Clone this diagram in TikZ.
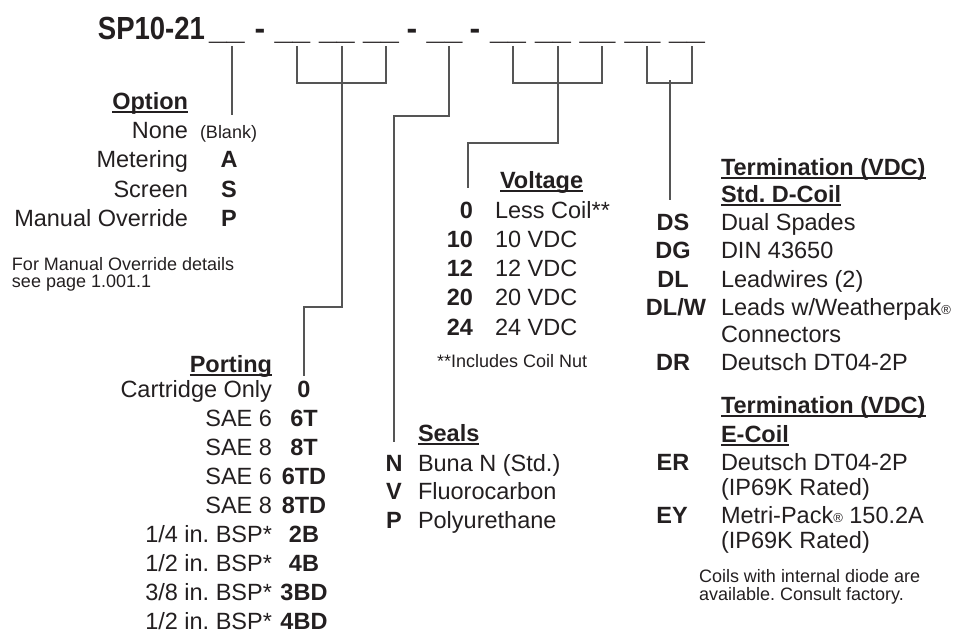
\documentclass[tikz,border=0pt]{standalone}
\usepackage{fontspec}
\setmainfont{Liberation Sans}
\usepackage{graphicx}
\definecolor{ink}{HTML}{231F20}
\definecolor{linec}{HTML}{555555}
\newcommand\myul[1]{\setbox0\hbox{#1}\rlap{\rule[-4pt]{\wd0}{1.8pt}}\box0}
\newcommand\regm{{\fontsize{13}{13}\selectfont\raisebox{1pt}{®}}}
\frenchspacing
\begin{document}
\begin{tikzpicture}[x=1pt,y=-1pt,
  lbl/.style={inner sep=0pt, outer sep=0pt, text=ink, font=\fontsize{23.5}{27}\selectfont},
  cd/.style={lbl, font=\fontsize{23.5}{27}\selectfont\bfseries},
  sm/.style={inner sep=0pt, outer sep=0pt, text=ink, font=\fontsize{18}{21}\selectfont},
  ttl/.style={inner sep=0pt, outer sep=0pt, text=ink, font=\fontsize{32}{36}\selectfont\bfseries},
  conn/.style={draw=linec, line width=2pt}]
\useasboundingbox (0,0) rectangle (974,633);
% ---- title and blanks
\node[ttl,anchor=base east] (title) at (205,39) {\scalebox{0.86}[1]{SP10-21}};
\node[ttl,anchor=base] (b1) at (227,39) {\_\_};
\node[ttl,anchor=base] (d1) at (260,39) {-};
\node[ttl,anchor=base] (b2) at (292.5,39) {\_\_};
\node[ttl,anchor=base] (b3) at (337,39) {\_\_};
\node[ttl,anchor=base] (b4) at (381,39) {\_\_};
\node[ttl,anchor=base] (d2) at (412,39) {-};
\node[ttl,anchor=base] (b5) at (444.5,39) {\_\_};
\node[ttl,anchor=base] (d3) at (475,39) {-};
\node[ttl,anchor=base] (b6) at (508,39) {\_\_};
\node[ttl,anchor=base] (b7) at (553,39) {\_\_};
\node[ttl,anchor=base] (b8) at (597.5,39) {\_\_};
\node[ttl,anchor=base] (b9) at (642.5,39) {\_\_};
\node[ttl,anchor=base] (b10) at (687,39) {\_\_};
% ---- connectors
\tikzset{under/.style={xshift=4.5pt,yshift=-3pt}}
\coordinate (lvl) at (0,80);
\coordinate (optend) at (231.5,115);
\draw[conn] ([under]b1.south) -- (optend);
\coordinate (portbend) at (304,307);
\coordinate (portend) at (304,376);
\draw[conn] ([under]b2.south) |- ([under]b4.south |- lvl) -- ([under]b4.south);
\draw[conn] ([under]b3.south) |- (portbend) -- (portend);
\coordinate (sealbend) at (394,116);
\coordinate (sealend) at (394,442);
\draw[conn] ([under]b5.south) |- (sealbend) -- (sealend);
\coordinate (voltbend) at (468,143);
\coordinate (voltend) at (468,188);
\draw[conn] ([under]b6.south) |- ([under]b8.south |- lvl) -- ([under]b8.south);
\draw[conn] ([under]b7.south) |- (voltbend) -- (voltend);
\coordinate (termtop) at (669.5,80);
\coordinate (termend) at (669.5,200);
\draw[conn] ([under]b9.south) |- ([under]b10.south |- lvl) -- ([under]b10.south);
\draw[conn] (termtop) -- (termend);
% ---- Option
\node[cd,anchor=base east] (opthead) at (188,109) {\myul{Option}};
\node[lbl,anchor=base east] (optl1) at (188,138) {None};
\node[sm,anchor=base west] (optc1) at (200,138) {(Blank)};
\node[lbl,anchor=base east] (optl2) at (188,167) {Metering};
\node[cd,anchor=base] (optc2) at (229,167) {A};
\node[lbl,anchor=base east] (optl3) at (188,197) {Screen};
\node[cd,anchor=base] (optc3) at (229,197) {S};
\node[lbl,anchor=base east] (optl4) at (188,226) {Manual Override};
\node[cd,anchor=base] (optc4) at (229,226) {P};
\node[sm,anchor=base west] (optn1) at (12,270) {For Manual Override details};
\node[sm,anchor=base west] (optn2) at (12,287) {see page 1.001.1};
% ---- Porting
\node[cd,anchor=base east] (porthead) at (272,372) {\myul{Porting}};
\foreach \lab/\code [count=\i from 0] in {{Cartridge Only}/0, {SAE 6}/6T, {SAE 8}/8T, {SAE 6}/6TD, {SAE 8}/8TD, {1/4 in. BSP*}/2B, {1/2 in. BSP*}/4B, {3/8 in. BSP*}/3BD, {1/2 in. BSP*}/4BD}{
  \node[lbl,anchor=base east] (portl\i) at (272,397+29*\i) {\lab};
  \node[cd,anchor=base] (portc\i) at (304,397+29*\i) {\code};
}
% ---- Voltage
\node[cd,anchor=base west] (volthead) at (500,188) {\myul{Voltage}};
\foreach \code/\lab [count=\i from 0] in {0/{Less Coil**}, 10/{10 VDC}, 12/{12 VDC}, 20/{20 VDC}, 24/{24 VDC}}{
  \node[cd,anchor=base east] (voltc\i) at (473,218+29.3*\i) {\code};
  \node[lbl,anchor=base west] (voltl\i) at (495,218+29.3*\i) {\lab};
}
\node[sm,anchor=base west] (voltnote) at (437,367) {**Includes Coil Nut};
% ---- Seals
\node[cd,anchor=base west] (sealhead) at (418,441) {\myul{Seals}};
\foreach \code/\lab [count=\i from 0] in {N/{Buna N (Std.)}, V/Fluorocarbon, P/Polyurethane}{
  \node[cd,anchor=base] (sealc\i) at (394,471+28.7*\i) {\code};
  \node[lbl,anchor=base west] (seall\i) at (418,471+28.7*\i) {\lab};
}
% ---- Termination D-Coil
\node[cd,anchor=base west] (termhead1) at (721,175) {\myul{Termination (VDC)}};
\node[cd,anchor=base west] (termsub1) at (721,202) {\myul{Std. D-Coil}};
\node[cd,anchor=base] (tc1) at (673,230) {DS};
\node[lbl,anchor=base west] (tl1) at (721,230) {Dual Spades};
\node[cd,anchor=base] (tc2) at (673,258) {DG};
\node[lbl,anchor=base west] (tl2) at (721,258) {DIN 43650};
\node[cd,anchor=base] (tc3) at (673,287) {DL};
\node[lbl,anchor=base west] (tl3) at (721,287) {Leadwires (2)};
\node[cd,anchor=base] (tc4) at (676,315) {DL/W};
\node[lbl,anchor=base west] (tl4) at (721,315) {Leads w/Weatherpak\regm};
\node[lbl,anchor=base west] (tl4b) at (721,342) {Connectors};
\node[cd,anchor=base] (tc5) at (673,370) {DR};
\node[lbl,anchor=base west] (tl5) at (721,370) {Deutsch DT04-2P};
% ---- Termination E-Coil
\node[cd,anchor=base west] (termhead2) at (721,413) {\myul{Termination (VDC)}};
\node[cd,anchor=base west] (termsub2) at (721,442) {\myul{E-Coil}};
\node[cd,anchor=base] (tc6) at (673,470) {ER};
\node[lbl,anchor=base west] (tl6) at (721,470) {Deutsch DT04-2P};
\node[lbl,anchor=base west] (tl6b) at (721,495) {(IP69K Rated)};
\node[cd,anchor=base] (tc7) at (672,523) {EY};
\node[lbl,anchor=base west] (tl7) at (721,523) {Metri-Pack\regm{} 150.2A};
\node[lbl,anchor=base west] (tl7b) at (721,548) {(IP69K Rated)};
\node[sm,anchor=base west] (coiln1) at (699,582) {Coils with internal diode are};
\node[sm,anchor=base west] (coiln2) at (699,600) {available. Consult factory.};
\end{tikzpicture}
\end{document}
